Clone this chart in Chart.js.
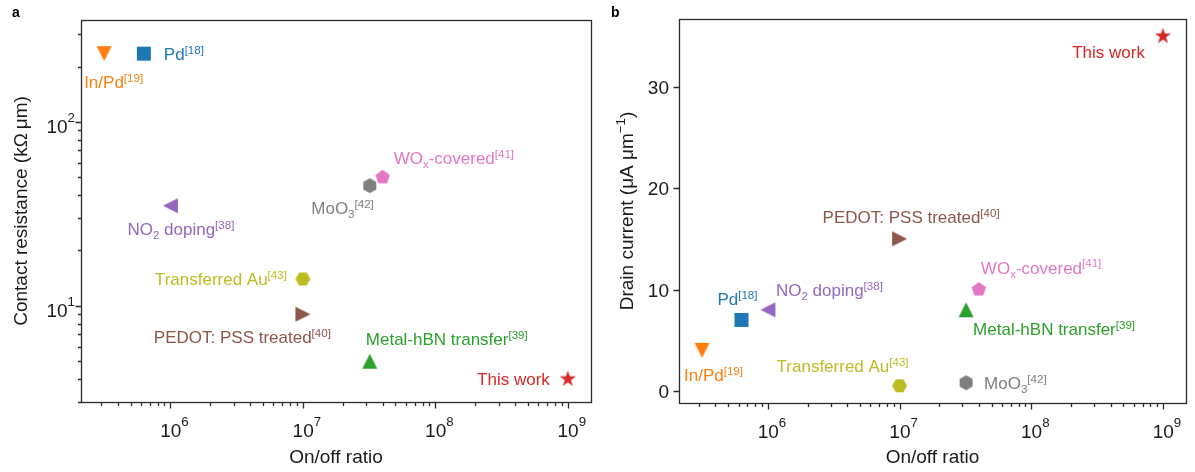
<!DOCTYPE html>
<html>
<head>
<meta charset="utf-8">
<script src="https://cdn.jsdelivr.net/npm/chart.js@4"></script>
<style>
  html, body { margin: 0; padding: 0; background: #fff; }
  #wrap { position: relative; width: 1195px; height: 472px; overflow: hidden; }
  #ca { position: absolute; left: 0; top: 0; }
  #cb { position: absolute; left: 600px; top: 0; }
</style>
</head>
<body>
<div id="wrap">
  <canvas id="ca" width="600" height="472"></canvas>
  <canvas id="cb" width="595" height="472"></canvas>
</div>
<script>
// ---- data ----
const methods = [
  'Pd^{[18]}', 'In/Pd^{[19]}', 'NO_{2} doping^{[38]}', 'PEDOT: PSS treated^{[40]}',
  'Metal-hBN transfer^{[39]}', 'Transferred Au^{[43]}', 'WO_{x}-covered^{[41]}',
  'MoO_{3}^{[42]}', 'This work'
];
const onOffRatio        = [6.3e5, 3.16e5, 1.0e6, 1.0e7, 3.2e7, 1.0e7, 4.0e7, 3.2e7, 1.0e9];
const contactResistance = [235, 235, 35, 9, 5, 14, 50, 45, 4];       // kΩ µm
const drainCurrent      = [7, 4, 8, 15, 8, 0.5, 10, 0.8, 35];         // µA µm^-1
const xTickExponents = [6, 7, 8, 9];
const yTickExponentsA = [1, 2];
const yTicksB = [0, 10, 20, 30];
const xRange = [Math.pow(10, 5.325), Math.pow(10, 9.175)];
const yRangeA = [3, 358];
const yRangeB = [-1.2, 36.7];

// ---- styling ----
const FONT = '"Liberation Sans", Arial, Helvetica, sans-serif';
const INK = '#1a1a1a';
const colors  = ['#1f77b4', '#ff7f0e', '#9467bd', '#8c564b', '#2ca02c', '#bcbd22', '#e377c2', '#7f7f7f', '#d62728'];
const markers = ['s', 'v', '<', '>', '^', 'H', 'p', 'h', '*'];
const markerSize = { s: 14, v: 15, '<': 15, '>': 15, '^': 15, H: 15, p: 15, h: 15, '*': 17 };

// label placement around each marker: [dx, dy, align]
const labelPlaceA = [
  [20, 0, 'left'], [-20, 28, 'left'], [-43, 23, 'left'], [28, 23, 'right'],
  [-4, -22, 'left'], [-16, 0, 'right'], [11, -19, 'left'], [4, 22, 'right'], [-18, 0, 'right']
];
const labelPlaceB = [
  [16, -21, 'right'], [-18, 25, 'left'], [8, -20, 'left'], [-77, -22, 'left'],
  [7, 19, 'left'], [9, -20, 'right'], [2, -22, 'left'], [18, 0, 'left'], [-18, 16, 'right']
];

function fontStr(size, bold) { return (bold ? 'bold ' : '') + size + 'px ' + FONT; }

// marker glyphs rendered to small canvases for Chart.js pointStyle
function markerCanvas(shape, color, s) {
  const n = Math.ceil(s + 6);
  const c = document.createElement('canvas');
  c.width = n; c.height = n;
  const g = c.getContext('2d');
  const cx = n / 2, cy = n / 2, r = s / 2;
  let pts = [];
  const poly = (k, start, rad) => {
    for (let i = 0; i < k; i++) {
      const a = start + i * 2 * Math.PI / k;
      pts.push([rad * Math.cos(a), rad * Math.sin(a)]);
    }
  };
  switch (shape) {
    case 's': pts = [[-r, -r], [r, -r], [r, r], [-r, r]]; break;
    case '^': pts = [[0, -r], [-r, r], [r, r]]; break;
    case 'v': pts = [[0, r], [-r, -r], [r, -r]]; break;
    case '<': pts = [[-r, 0], [r, -r], [r, r]]; break;
    case '>': pts = [[r, 0], [-r, -r], [-r, r]]; break;
    case 'p': poly(5, -Math.PI / 2, r); break;
    case 'h': poly(6, -Math.PI / 2, r); break;
    case 'H': poly(6, 0, r); break;
    case '*':
      for (let i = 0; i < 10; i++) {
        const a = -Math.PI / 2 + i * Math.PI / 5;
        const rad = i % 2 === 0 ? r : r * 0.381966;
        pts.push([rad * Math.cos(a), rad * Math.sin(a)]);
      }
      break;
  }
  g.fillStyle = color;
  g.beginPath();
  pts.forEach((p, i) => i ? g.lineTo(cx + p[0], cy + p[1]) : g.moveTo(cx + p[0], cy + p[1]));
  g.closePath();
  g.fill();
  return c;
}
const pointGlyphs = markers.map((m, i) => markerCanvas(m, colors[i], markerSize[m]));

// text with ^{..} superscripts and _{..} subscripts
function parseRich(s) {
  const segs = []; const re = /(\^|_)\{([^}]*)\}/g; let last = 0, m;
  while ((m = re.exec(s))) {
    if (m.index > last) segs.push({ t: s.slice(last, m.index), k: 'n' });
    segs.push({ t: m[2], k: m[1] === '^' ? 'sup' : 'sub' });
    last = re.lastIndex;
  }
  if (last < s.length) segs.push({ t: s.slice(last), k: 'n' });
  return segs;
}
function drawRich(ctx, src, x, baseline, align, size, color, opt) {
  opt = Object.assign({ small: 0.68, raise: 0.36, drop: 0.24 }, opt || {});
  const segs = parseRich(src);
  const small = size * opt.small;
  let w = 0;
  segs.forEach(sg => {
    ctx.font = fontStr(sg.k === 'n' ? size : small);
    sg.w = ctx.measureText(sg.t).width; w += sg.w;
  });
  let x0 = align === 'right' ? x - w : align === 'center' ? x - w / 2 : x;
  ctx.fillStyle = color; ctx.textAlign = 'left'; ctx.textBaseline = 'alphabetic';
  segs.forEach(sg => {
    ctx.font = fontStr(sg.k === 'n' ? size : small);
    const dy = sg.k === 'sup' ? -size * opt.raise : sg.k === 'sub' ? size * opt.drop : 0;
    ctx.fillText(sg.t, x0, baseline + dy);
    x0 += sg.w;
  });
}

// frame, ticks, tick labels, titles and point labels
function axesPlugin(cfg) {
  return {
    id: 'axesDecor' + cfg.letter,
    afterDatasetsDraw(chart) {
      const ctx = chart.ctx, a = chart.chartArea;
      const xs = chart.scales.x, ys = chart.scales.y;
      ctx.save();
      ctx.strokeStyle = '#2b2b2b'; ctx.lineWidth = 1.3;
      ctx.strokeRect(Math.round(a.left) + 0.5, Math.round(a.top) + 0.5,
                     Math.round(a.right - a.left), Math.round(a.bottom - a.top));
      const bottom = Math.round(a.bottom) + 0.5, left = Math.round(a.left) + 0.5;

      // x ticks (log)
      ctx.beginPath();
      for (let e = 5; e <= 9; e++) {
        for (let m = 1; m <= 9; m++) {
          const v = m * Math.pow(10, e);
          if (v < xRange[0] || v > xRange[1]) continue;
          const px = Math.round(xs.getPixelForValue(v)) + 0.5;
          ctx.moveTo(px, bottom); ctx.lineTo(px, bottom + (m === 1 ? 6 : 3.5));
        }
      }
      // y ticks
      if (cfg.logY) {
        for (let e = 0; e <= 2; e++) {
          for (let m = 1; m <= 9; m++) {
            const v = m * Math.pow(10, e);
            if (v < yRangeA[0] || v > yRangeA[1]) continue;
            const py = Math.round(ys.getPixelForValue(v)) + 0.5;
            ctx.moveTo(left, py); ctx.lineTo(left - (m === 1 ? 6 : 3.5), py);
          }
        }
      } else {
        yTicksB.forEach(v => {
          const py = Math.round(ys.getPixelForValue(v)) + 0.5;
          ctx.moveTo(left, py); ctx.lineTo(left - 6, py);
        });
      }
      ctx.stroke();

      // x tick labels
      xTickExponents.forEach(e => {
        const px = xs.getPixelForValue(Math.pow(10, e));
        drawRich(ctx, '10^{' + e + '}', px + 4, a.bottom + 35, 'center', 19, INK, { small: 0.7, raise: 0.6 });
      });
      // y tick labels
      if (cfg.logY) {
        yTickExponentsA.forEach(e => {
          const py = ys.getPixelForValue(Math.pow(10, e));
          drawRich(ctx, '10^{' + e + '}', a.left - 6, py + 11, 'right', 19, INK, { small: 0.7, raise: 0.55 });
        });
      } else {
        yTicksB.forEach(v => {
          const py = ys.getPixelForValue(v);
          drawRich(ctx, String(v), a.left - 10, py + 7, 'right', 19, INK);
        });
      }
      // axis titles
      drawRich(ctx, 'On/off ratio', (a.left + a.right) / 2, 463, 'center', 19, INK);
      ctx.save();
      ctx.translate(cfg.yTitleX, (a.top + a.bottom) / 2);
      ctx.rotate(-Math.PI / 2);
      drawRich(ctx, cfg.yTitle, 0, 0, 'center', 19, INK, { small: 0.7, raise: 0.42 });
      ctx.restore();

      // point labels
      const meta = chart.getDatasetMeta(0);
      meta.data.forEach((pt, i) => {
        const [dx, dy, al] = cfg.place[i];
        drawRich(ctx, methods[i], pt.x + dx, pt.y + dy + 6, al, 17, colors[i], { small: 0.68, raise: 0.36, drop: 0.24 });
      });

      // panel letter
      ctx.font = fontStr(14, true); ctx.fillStyle = '#000';
      ctx.textAlign = 'left'; ctx.textBaseline = 'alphabetic';
      ctx.fillText(cfg.letter, cfg.letterX, 17);
      ctx.restore();
    }
  };
}

function buildChart(id, yValues, yScale, geom, cfg) {
  return new Chart(document.getElementById(id), {
    type: 'scatter',
    data: {
      datasets: [{
        data: onOffRatio.map((x, i) => ({ x: x, y: yValues[i] })),
        pointStyle: pointGlyphs,
        pointRadius: 8,
        clip: false
      }]
    },
    options: {
      responsive: false,
      animation: false,
      devicePixelRatio: 1,
      layout: { padding: { top: geom.top, right: geom.right, left: 0, bottom: 0 } },
      plugins: { legend: { display: false }, tooltip: { enabled: false } },
      scales: {
        x: {
          type: 'logarithmic', min: xRange[0], max: xRange[1],
          grid: { display: false }, border: { display: false }, ticks: { display: false },
          afterFit: s => { s.height = geom.xAxisH; }
        },
        y: Object.assign({
          grid: { display: false }, border: { display: false }, ticks: { display: false },
          afterFit: s => { s.width = geom.yAxisW; }
        }, yScale)
      }
    },
    plugins: [axesPlugin(cfg)]
  });
}

buildChart('ca', contactResistance,
  { type: 'logarithmic', min: yRangeA[0], max: yRangeA[1] },
  { top: 20, right: 8, xAxisH: 70, yAxisW: 81 },
  { letter: 'a', letterX: 12, logY: true, place: labelPlaceA,
    yTitle: 'Contact resistance (k\u03A9\u2009\u03BCm)', yTitleX: 27 });

buildChart('cb', drainCurrent,
  { type: 'linear', min: yRangeB[0], max: yRangeB[1] },
  { top: 19, right: 2, xAxisH: 69, yAxisW: 79 },
  { letter: 'b', letterX: 11, logY: false, place: labelPlaceB,
    yTitle: 'Drain current (\u03BCA \u03BCm^{\u22121})', yTitleX: 33 });
</script>
</body>
</html>
